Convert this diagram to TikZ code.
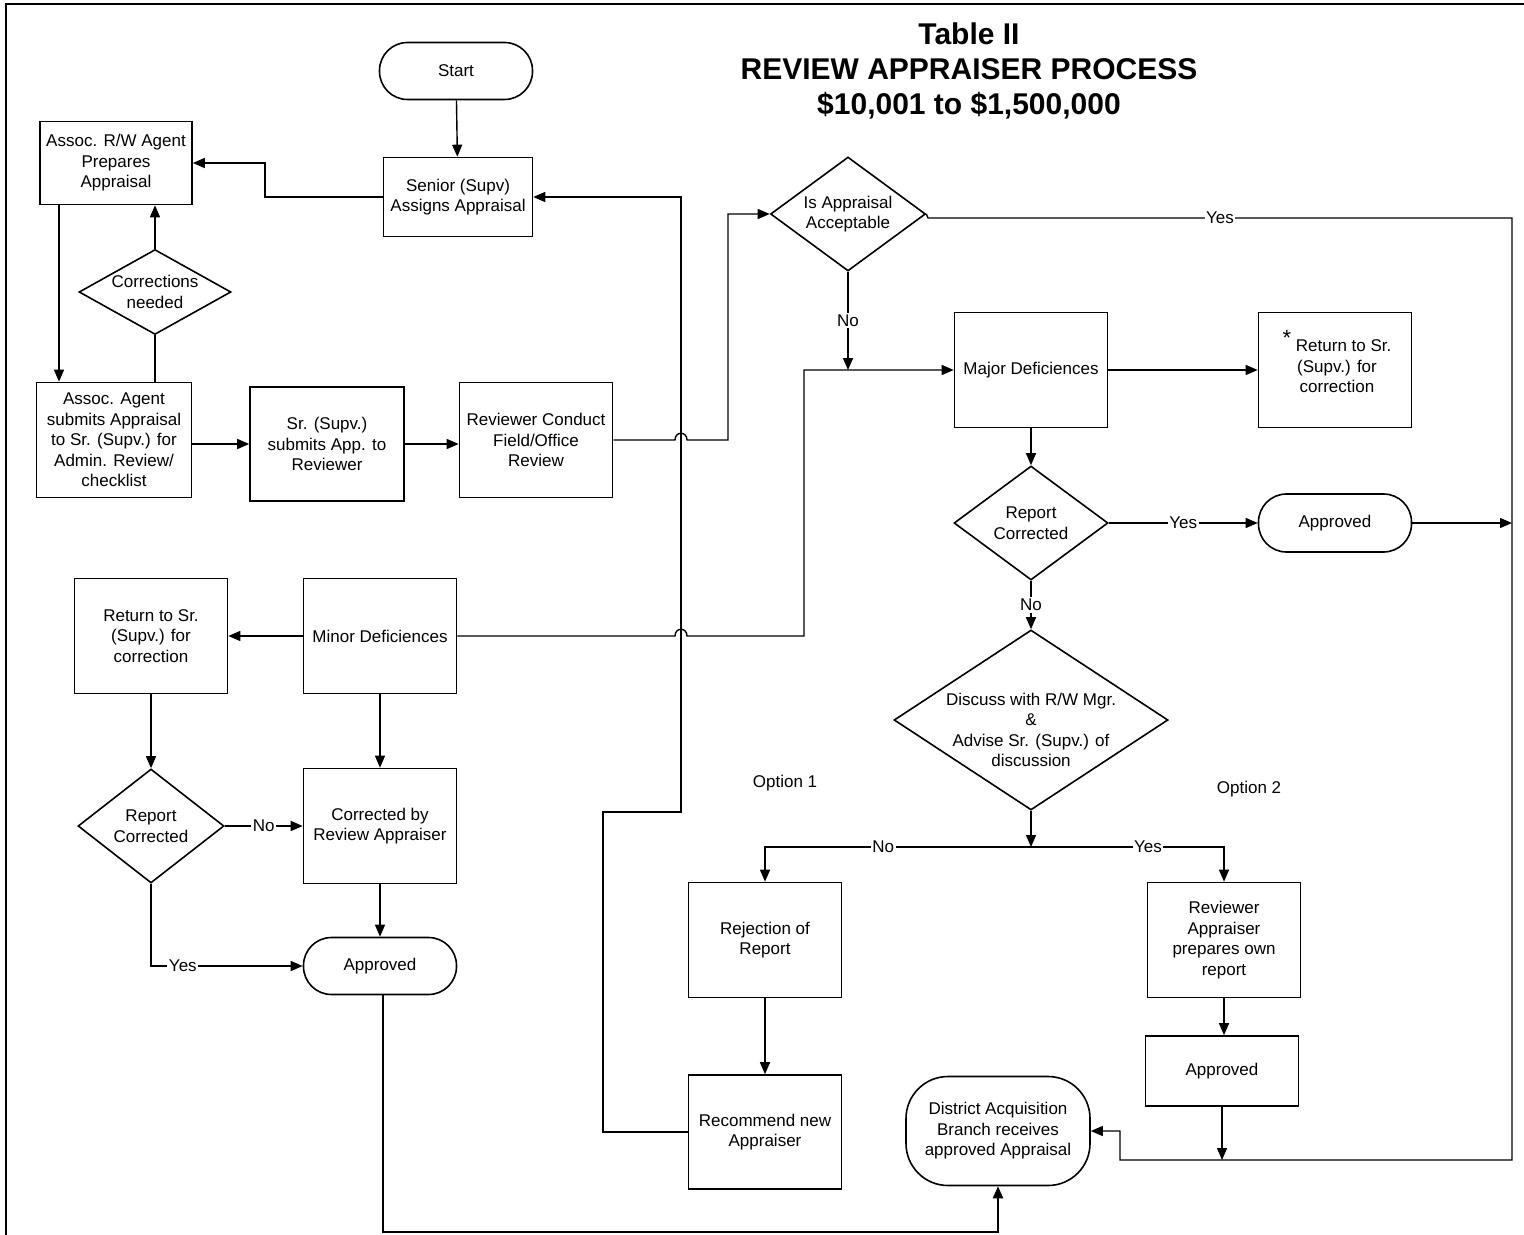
\documentclass[tikz,border=0pt]{standalone}
\usepackage{fontspec}
\setmainfont{Liberation Sans}
\usetikzlibrary{arrows.meta,shapes.geometric}
\begin{document}
\begin{tikzpicture}[x=0.5pt,y=-0.5pt,
  every node/.style={font=\fontsize{8.5}{10.25}\selectfont, align=center},
  box/.style={draw, line width=0.8pt, minimum width=76.5pt, minimum height=57.5pt, inner sep=1pt},
  term/.style={draw, line width=0.8pt, rounded corners=14pt, minimum width=76.5pt, minimum height=28.5pt},
  dec/.style={draw, diamond, line width=0.8pt, inner sep=0pt},
  conn/.style={line width=0.7pt},
  arr/.style={conn, -{Triangle[length=6pt,width=5pt]}},
  lbl/.style={fill=white, inner sep=0.8pt},
  ttl/.style={font=\bfseries\fontsize{15}{17.5}\selectfont}
]
\useasboundingbox (0,0) rectangle (1524,1235);
\draw[line width=0.8pt] (6,1235) -- (6,4) -- (1524,4);

% title
\node[ttl] (title) at (969,71) {Table II\\REVIEW APPRAISER PROCESS\\\$10,001 to \$1,500,000};

% nodes
\node[term] (start) at (456,71) {Start};
\node[box, minimum width=74.5pt, minimum height=39.5pt] (senior) at (458,197) {Senior (Supv)\\Assigns Appraisal};
\node[box, minimum width=76pt, minimum height=41.5pt] (agent) at (116,163) {Assoc. R/W Agent\\Prepares\\Appraisal};
\node[dec, aspect=1.79, minimum width=76pt, minimum height=42.5pt] (corr) at (155,292) {Corrections\\needed};
\node[box, minimum width=77.5pt] (submit) at (114,440) {Assoc. Agent\\submits Appraisal\\to Sr. (Supv.) for\\Admin. Review/\\checklist};
\node[box, minimum width=77pt, minimum height=57pt] (srsub) at (327,444) {Sr. (Supv.)\\submits App. to\\Reviewer};
\node[box] (rev) at (536,440) {Reviewer Conduct\\Field/Office\\Review};
\node[dec, aspect=1.36, minimum width=77.5pt, minimum height=57pt] (acc) at (848,214) {Is Appraisal\\Acceptable};
\node[box] (major) at (1031,370) {Major Deficiences};
\node[box] (ret1) at (1335,370) {};
\node (ret1t) at (1337,362) {\raisebox{3pt}{\fontsize{11}{10}\selectfont *} Return to Sr.\\(Supv.) for\\correction};
\node[dec, aspect=1.35, minimum width=77pt, minimum height=57pt] (rc2) at (1031,523) {Report\\Corrected};
\node[term, minimum height=29pt] (appr2) at (1335,523) {Approved};
\node[dec, minimum width=137pt, minimum height=90pt] (disc) at (1031,720) {};
\node (disct) at (1031,730) {Discuss with R/W Mgr.\\\&\\Advise Sr. (Supv.) of\\discussion};
\node (opt1) at (785,783) {Option 1};
\node (opt2) at (1249,789) {Option 2};
\node[box] (rej) at (765,940) {Rejection of\\Report};
\node[box, minimum height=57pt] (recom) at (765,1132) {Recommend new\\Appraiser};
\node[box] (own) at (1224,940) {Reviewer\\Appraiser\\prepares own\\report};
\node[box, minimum height=35pt] (appr3) at (1222,1071) {Approved};
\node[draw, line width=0.8pt, rounded corners=21pt, minimum width=92pt, minimum height=54.5pt] (dist) at (998,1131) {District Acquisition\\Branch receives\\approved Appraisal};
\node[box] (minor) at (380,636) {Minor Deficiences};
\node[box] (ret2) at (151,636) {Return to Sr.\\(Supv.) for\\correction};
\node[dec, aspect=1.28, minimum width=73pt, minimum height=57pt] (rc1) at (151,826) {Report\\Corrected};
\node[box] (corby) at (380,826) {Corrected by\\Review Appraiser};
\node[term] (appr1) at (380,966) {Approved};

% helper coordinates
\coordinate (x59) at (59,0);
\coordinate (rj) at (1512,523);
\coordinate (bj) at (1222,1160);
\coordinate (dj) at (1031,847);
\coordinate (nj) at (848,370);
\coordinate (low) at (0,1232);
\coordinate (x383) at (383,0);

% connectors
\draw[arr] (start) -- (senior);
\draw[arr] (senior.west) -- (265,197) |- (agent.east);
\draw[arr] (agent.south -| x59) -- (submit.north -| x59);
\draw[conn] (submit.north -| corr) -- (corr.south);
\draw[arr] (corr.north) -- (agent.south -| corr);
\draw[arr] (submit.east |- srsub) -- (srsub.west);
\draw[arr] (srsub.east) -- (rev.west |- srsub);
\draw[arr] (rev.east) -- (675,440) .. controls (675,431) and (687,431) .. (687,440) -- (728,440) |- (acc.west);
\draw[arr] (recom.west) -- (603,1132) -- (603,812) -- (681,812) |- (senior.east);
\draw[arr] (acc.south) -- node[lbl]{No} (nj);
\draw[arr] (minor.east) -- (675,636) .. controls (675,627) and (687,627) .. (687,636) -- (804,636) |- (major.west);
\draw[arr] (acc.east) -- (928,218) -- node[lbl]{Yes} (1512,218) -- (1512,1160) -- (1120,1160) |- (dist.east);
\draw[arr] (appr2.east) -- (rj);
\draw[arr] (appr3.south) -- (bj);
\draw[arr] (major.east) -- (ret1.west);
\draw[arr] (major.south) -- (rc2.north);
\draw[arr] (rc2.east) -- node[lbl]{Yes} (appr2.west);
\draw[arr] (rc2.south) -- node[lbl]{No} (disc.north);
\draw[arr] (disc.south) -- (dj);
\draw[arr] (dj) -- node[lbl, pos=0.556]{No} (rej.north |- dj) -- (rej.north);
\draw[arr] (dj) -- node[lbl, pos=0.606]{Yes} (own.north |- dj) -- (own.north);
\draw[arr] (rej) -- (recom);
\draw[arr] (own.south) -- (own.south |- appr3.north);
\draw[arr] (minor.west) -- (ret2.east);
\draw[arr] (minor) -- (corby);
\draw[arr] (ret2) -- (rc1);
\draw[arr] (rc1.east) -- node[lbl]{No} (corby.west);
\draw[arr] (rc1.south) |- node[lbl, pos=0.605]{Yes} (appr1.west);
\draw[arr] (corby) -- (appr1);
\draw[arr, line width=1.2pt] (appr1.south -| x383) -- (x383 |- low) -| (dist.south);
\end{tikzpicture}
\end{document}
